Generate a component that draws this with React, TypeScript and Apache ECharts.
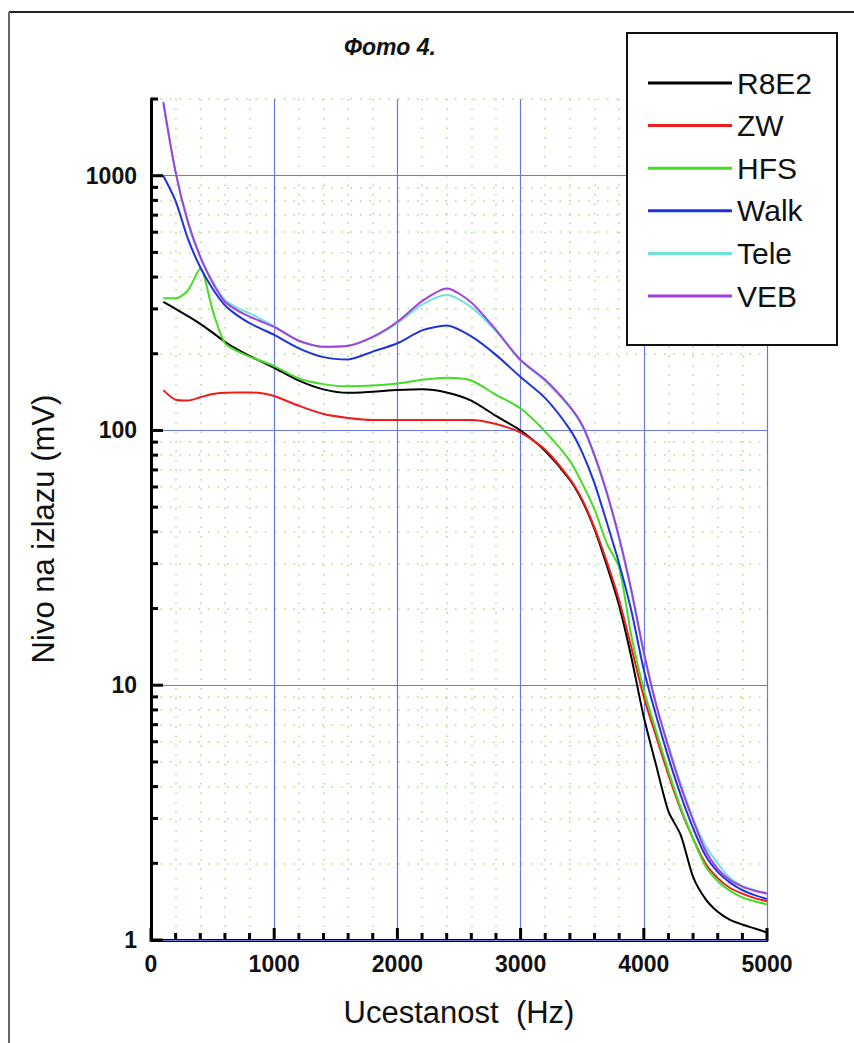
import React, { useEffect, useRef } from "react";
import * as echarts from "echarts";

const FREQ = [100, 200, 300, 400, 500, 600, 700, 800, 900, 1000, 1200, 1400, 1600, 1800, 2000, 2200, 2400, 2600, 2800, 3000, 3200, 3400, 3500, 3600, 3700, 3800, 3900, 4000, 4100, 4200, 4300, 4400, 4500, 4600, 4700, 4800, 4900, 5000];

const R8E2 = [320, 300, 281, 262, 242, 223, 208, 196, 186, 176, 157, 145, 140.5, 142, 144, 145, 141, 131, 114, 100, 83, 64, 53, 41, 29.5, 20.5, 12.8, 7.5, 4.85, 3.2, 2.58, 1.77, 1.45, 1.29, 1.2, 1.15, 1.11, 1.07];
const ZW = [144, 132, 131, 135, 139, 140.6, 141, 141, 140, 136.5, 125, 116, 112, 110, 110, 110, 110, 110, 106, 98, 84, 64.5, 53.5, 41.5, 30.5, 21.5, 14, 9.0, 6.3, 4.45, 3.25, 2.5, 2.0, 1.75, 1.6, 1.52, 1.46, 1.42];
const HFS = [330, 330, 355, 432, 296, 220, 205, 195, 187, 179, 160, 152, 149, 150, 153, 158, 161, 157, 138, 122, 99, 76, 62, 49, 36, 29, 15.5, 9.6, 6.6, 4.6, 3.3, 2.5, 1.95, 1.7, 1.56, 1.47, 1.42, 1.38];
const WALK = [1000, 795, 565, 437, 360, 310, 283, 264, 250, 237, 210, 194, 190, 204, 220, 247, 258, 234, 198, 162, 134, 101, 82, 62, 43.5, 30, 19.5, 11.5, 7.6, 5.2, 3.7, 2.75, 2.15, 1.85, 1.68, 1.57, 1.5, 1.45];
const TELE = [1900, 1030, 650, 480, 385, 325, 303, 288, 272, 256, 225, 213, 215, 232, 264, 312, 340, 305, 245, 188, 156, 123, 104, 79, 56.5, 37.5, 23, 13.3, 8.4, 5.8, 4.1, 3.0, 2.35, 2.0, 1.75, 1.63, 1.57, 1.53];
const VEB = [1950, 1030, 660, 480, 380, 320, 296, 280, 267, 255, 225, 213, 215, 233, 267, 322, 361, 318, 248, 189, 158, 124, 105, 80, 57, 38, 23.5, 13.5, 8.4, 5.7, 4.0, 2.95, 2.25, 1.9, 1.72, 1.62, 1.56, 1.52];

const SERIES_NAMES = ["R8E2", "ZW", "HFS", "Walk", "Tele", "VEB"];
const SERIES_VALUES = [R8E2, ZW, HFS, WALK, TELE, VEB];
const SERIES_COLORS = ["#000000", "#ee1c1c", "#44dd22", "#1f33dd", "#70e4d8", "#a040e0"];

const X_MAJOR = [0, 1000, 2000, 3000, 4000, 5000];
const X_MINOR = [200, 400, 600, 800, 1200, 1400, 1600, 1800, 2200, 2400, 2600, 2800, 3200, 3400, 3600, 3800, 4200, 4400, 4600, 4800];
const Y_MAJOR = [1, 10, 100, 1000];
const Y_MINOR = [2, 3, 4, 5, 6, 7, 8, 9, 20, 30, 40, 50, 60, 70, 80, 90, 200, 300, 400, 500, 600, 700, 800, 900, 2000];

const TITLE = "Фото 4.";
const X_NAME = "Ucestanost  (Hz)";
const Y_NAME = "Nivo na izlazu (mV)";

const FONT = "'Liberation Sans', Arial, sans-serif";
const MAJOR_GRID = "#6a78e0";
const MINOR_GRID = "#a8e080";

const GRID = { left: 151, right: 87, top: 99, bottom: 103 };
const CHART_W = 854;
const CHART_H = 1043;
const X_MIN = 0, X_MAX = 5000, Y_MIN = 1, Y_MAX = 2000;

export default function App() {
  const ref = useRef<HTMLDivElement>(null);

  useEffect(() => {
    if (!ref.current) return;
    const chart = echarts.init(ref.current, null, { renderer: "svg" });

    const series: any[] = SERIES_NAMES.map((name, i) => ({
      name,
      type: "line",
      xAxisIndex: 0,
      yAxisIndex: 0,
      symbol: "none",
      showSymbol: false,
      smooth: 0.25,
      lineStyle: { color: SERIES_COLORS[i], width: 2 },
      itemStyle: { color: SERIES_COLORS[i] },
      data: FREQ.map((f, j) => [f, SERIES_VALUES[i][j]]),
      z: 3 + i,
    }));

    // Axis geometry (same as the grid's value/log scales) for the inside tick marks.
    const plotW = CHART_W - GRID.left - GRID.right;
    const plotH = CHART_H - GRID.top - GRID.bottom;
    const xPx = (v: number) => GRID.left + ((v - X_MIN) / (X_MAX - X_MIN)) * plotW;
    const yPx = (v: number) => GRID.top + plotH - (Math.log10(v / Y_MIN) / Math.log10(Y_MAX / Y_MIN)) * plotH;
    const baseY = GRID.top + plotH;

    const tickEls: any[] = [];
    const xTick = (v: number, len: number) =>
      tickEls.push({ type: "rect", shape: { x: xPx(v) - 1.5, y: baseY - len, width: 3, height: len }, style: { fill: "#000" }, z: 40 });
    const yTick = (v: number, len: number) =>
      tickEls.push({ type: "rect", shape: { x: GRID.left, y: yPx(v) - 1.5, width: len, height: 3 }, style: { fill: "#000" }, z: 40 });
    X_MAJOR.forEach((v) => xTick(v, 12));
    X_MINOR.forEach((v) => xTick(v, 7));
    Y_MAJOR.forEach((v) => yTick(v, 12));
    Y_MINOR.forEach((v) => yTick(v, 7));

    chart.setOption({
      animation: false,
      backgroundColor: "#ffffff",
      grid: { ...GRID, containLabel: false, outerBoundsMode: "none" },
      xAxis: {
        type: "value",
        min: X_MIN,
        max: X_MAX,
        interval: 1000,
        axisLine: { show: true, lineStyle: { color: "#000", width: 3 } },
        axisTick: { show: false },
        minorTick: { show: false, splitNumber: 5 },
        axisLabel: {
          color: "#111",
          fontSize: 23,
          fontWeight: "bold",
          fontFamily: FONT,
          margin: 12,
          formatter: (v: number) => String(v),
        },
        splitLine: { show: true, lineStyle: { color: MAJOR_GRID, width: 1.2 } },
        minorSplitLine: { show: true, lineStyle: { color: MINOR_GRID, width: 1.5, type: [1.5, 8] } },
      },
      yAxis: [
        {
          type: "log",
          logBase: 10,
          min: Y_MIN,
          max: Y_MAX,
          position: "left",
          axisLine: { show: true, lineStyle: { color: "#000", width: 3 } },
          axisTick: { show: false, customValues: Y_MAJOR },
          axisLabel: {
            color: "#111",
            fontSize: 23,
            fontWeight: "bold",
            fontFamily: FONT,
            margin: 14,
            customValues: Y_MAJOR,
            formatter: (v: number) => String(Math.round(v)),
          },
          splitLine: { show: true, lineStyle: { color: MAJOR_GRID, width: 1.2 } },
          z: 1,
        },
        {
          type: "log",
          logBase: 10,
          min: Y_MIN,
          max: Y_MAX,
          position: "left",
          axisLine: { show: false },
          axisTick: { show: false, customValues: Y_MINOR },
          axisLabel: { show: false },
          splitLine: { show: true, lineStyle: { color: MINOR_GRID, width: 1.5, type: [1.5, 8] } },
          z: 0,
        },
      ],
      legend: {
        orient: "vertical",
        left: 648,
        top: 68,
        padding: 0,
        icon: "rect",
        itemWidth: 84,
        itemHeight: 3,
        itemGap: 12.6,
        selectedMode: false,
        data: SERIES_NAMES,
        textStyle: { fontSize: 30, color: "#111", fontFamily: FONT, lineHeight: 30 },
        z: 30,
      },
      graphic: [
        { type: "line", shape: { x1: 9, y1: 12, x2: 854, y2: 12 }, style: { stroke: "#222", lineWidth: 2 }, z: 1 },
        { type: "line", shape: { x1: 9, y1: 12, x2: 9, y2: 1043 }, style: { stroke: "#666", lineWidth: 2 }, z: 1 },
        { type: "rect", shape: { x: 627, y: 33, width: 210, height: 312 }, style: { fill: "#fff", stroke: "#111", lineWidth: 2 }, z: 25 },
        {
          type: "text",
          x: 390,
          y: 47,
          style: {
            text: TITLE,
            fill: "#111",
            fontSize: 23,
            fontWeight: "bold",
            fontStyle: "italic",
            fontFamily: FONT,
            align: "center",
            verticalAlign: "middle",
          },
          z: 30,
        },
        {
          type: "text",
          x: 459,
          y: 1012,
          style: { text: X_NAME, fill: "#111", fontSize: 31, fontFamily: FONT, align: "center", verticalAlign: "middle" },
          z: 30,
        },
        {
          type: "text",
          x: 43,
          y: 529,
          rotation: Math.PI / 2,
          style: { text: Y_NAME, fill: "#111", fontSize: 31, fontFamily: FONT, align: "center", verticalAlign: "middle" },
          z: 30,
        },
        ...tickEls,
      ],
      series,
    });

    return () => chart.dispose();
  }, []);

  return <div ref={ref} style={{ position: "absolute", left: 0, top: 0, width: CHART_W, height: CHART_H }} />;
}
